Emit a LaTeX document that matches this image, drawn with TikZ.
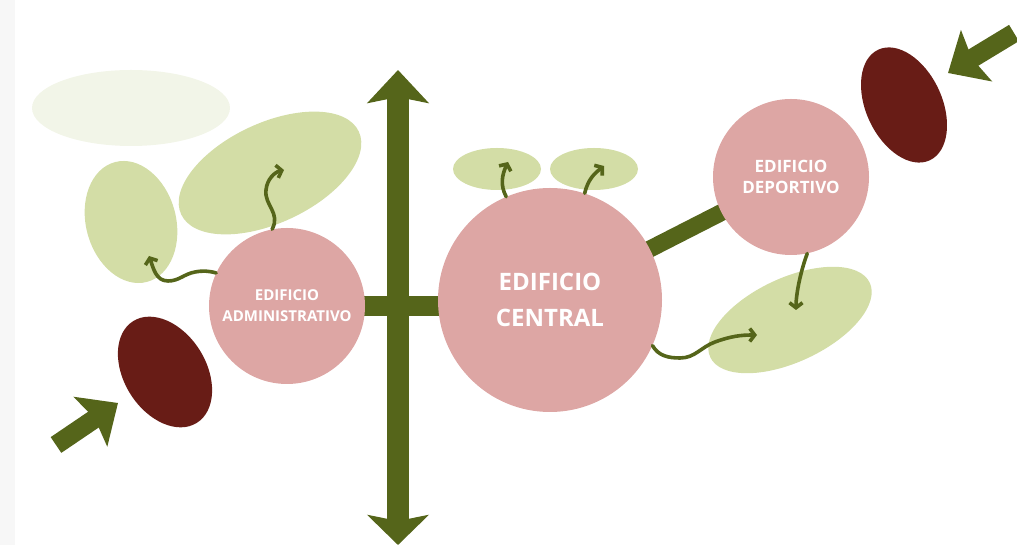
\documentclass[tikz,border=0pt]{standalone}
\usepackage{fontspec}
\setmainfont{Open Sans}
\usetikzlibrary{arrows.meta,shapes.geometric,backgrounds}
\definecolor{moss}{RGB}{85,101,26}
\definecolor{rosy}{RGB}{221,166,164}
\definecolor{leaf}{RGB}{211,221,166}
\definecolor{paleleaf}{RGB}{242,245,232}
\definecolor{wine}{RGB}{104,28,22}
\begin{document}
\begin{tikzpicture}[x=1pt,y=1pt,
    blob/.style={ellipse,fill=#1,inner sep=0pt},
    bldg/.style={circle,fill=rosy,text=white,align=center,inner sep=0pt},
    curl/.style={draw=moss,line width=3.6pt,line cap=round,-{Straight Barb[length=5pt,width=13pt]}},
    bigarrow/.style={draw=moss,line width=19pt,-{Stealth[length=33pt,width=59pt,inset=5pt]}}]
  \useasboundingbox (0,0) rectangle (1017,545);
  % zones
  \node[blob=paleleaf,minimum width=198pt,minimum height=76pt] (faint) at (131,437) {};
  \node[blob=leaf,minimum width=124pt,minimum height=90pt,rotate=105] (leftzone) at (131,323) {};
  \node[blob=leaf,minimum width=196pt,minimum height=100pt,rotate=25] (upzone) at (270,372) {};
  \node[blob=leaf,minimum width=88pt,minimum height=42pt] (topa) at (497,376) {};
  \node[blob=leaf,minimum width=88pt,minimum height=42pt] (topb) at (594,376) {};
  \node[blob=leaf,minimum width=176pt,minimum height=84pt,rotate=25] (lowzone) at (790,225) {};
  % axis
  \coordinate (axtop) at (398,475);
  \coordinate (axbot) at (398,0);
  \draw[moss,line width=22pt,{Stealth[length=30pt,width=61pt,inset=6pt]}-{Stealth[length=33pt,width=61pt,inset=6pt]}] (axbot) -- (axtop);
  % buildings
  \node[bldg,minimum size=156pt,font=\fontsize{15}{21}\selectfont\bfseries] (admin) at (287,239) {EDIFICIO\\ADMINISTRATIVO};
  \node[bldg,minimum size=224pt,font=\fontsize{24}{36}\selectfont\bfseries] (central) at (550,245) {EDIFICIO\\CENTRAL};
  \node[bldg,minimum size=156pt,font=\fontsize{17}{21}\selectfont\bfseries] (sport) at (791,368) {EDIFICIO\\DEPORTIVO};
  \begin{scope}[on background layer]
    \fill[black!3] (0,0) rectangle (15,545);
    \draw[moss,line width=20pt] (admin.center) -- (admin.center -| central.center);
    \draw[moss,line width=17pt] (central.center) -- (sport.center);
  \end{scope}
  % access
  \node[blob=wine,minimum width=122pt,minimum height=76pt,rotate=115] (gatetop) at (904,440) {};
  \node[blob=wine,minimum width=120pt,minimum height=82pt,rotate=122] (gatelow) at (165,173) {};
  \coordinate (intop) at (1014,512);
  \coordinate (inlow) at (56,100);
  \draw[bigarrow] (intop) -- (948,472);
  \draw[bigarrow] (inlow) -- (118,142);
  % flows
  \coordinate (ta) at (149,289);
  \coordinate (tb) at (284,375);
  \coordinate (tc) at (508,383);
  \coordinate (td) at (604,379);
  \coordinate (te) at (757,210);
  \coordinate (tf) at (796,235);
  \draw[curl] (admin.155) to[out=165,in=10] (195,273) to[out=190,in=0] (168,264) to[out=180,in=-70] (ta);
  \draw[curl] (admin.101) .. controls (281,332) and (264,340) .. (266,355) .. controls (267,366) and (275,373) .. (tb);
  \draw[curl] (central.113) .. controls (500,360) and (502,370) .. (tc);
  \draw[curl] (central.72) .. controls (588,366) and (595,372) .. (td);
  \draw[curl] (central.-24) to[out=-60,in=180] (680,187) to[out=0,in=200] (715,203) to[out=20,in=180] (te);
  \draw[curl] (sport.-78) .. controls (800,272) and (796,250) .. (tf);
\end{tikzpicture}
\end{document}
